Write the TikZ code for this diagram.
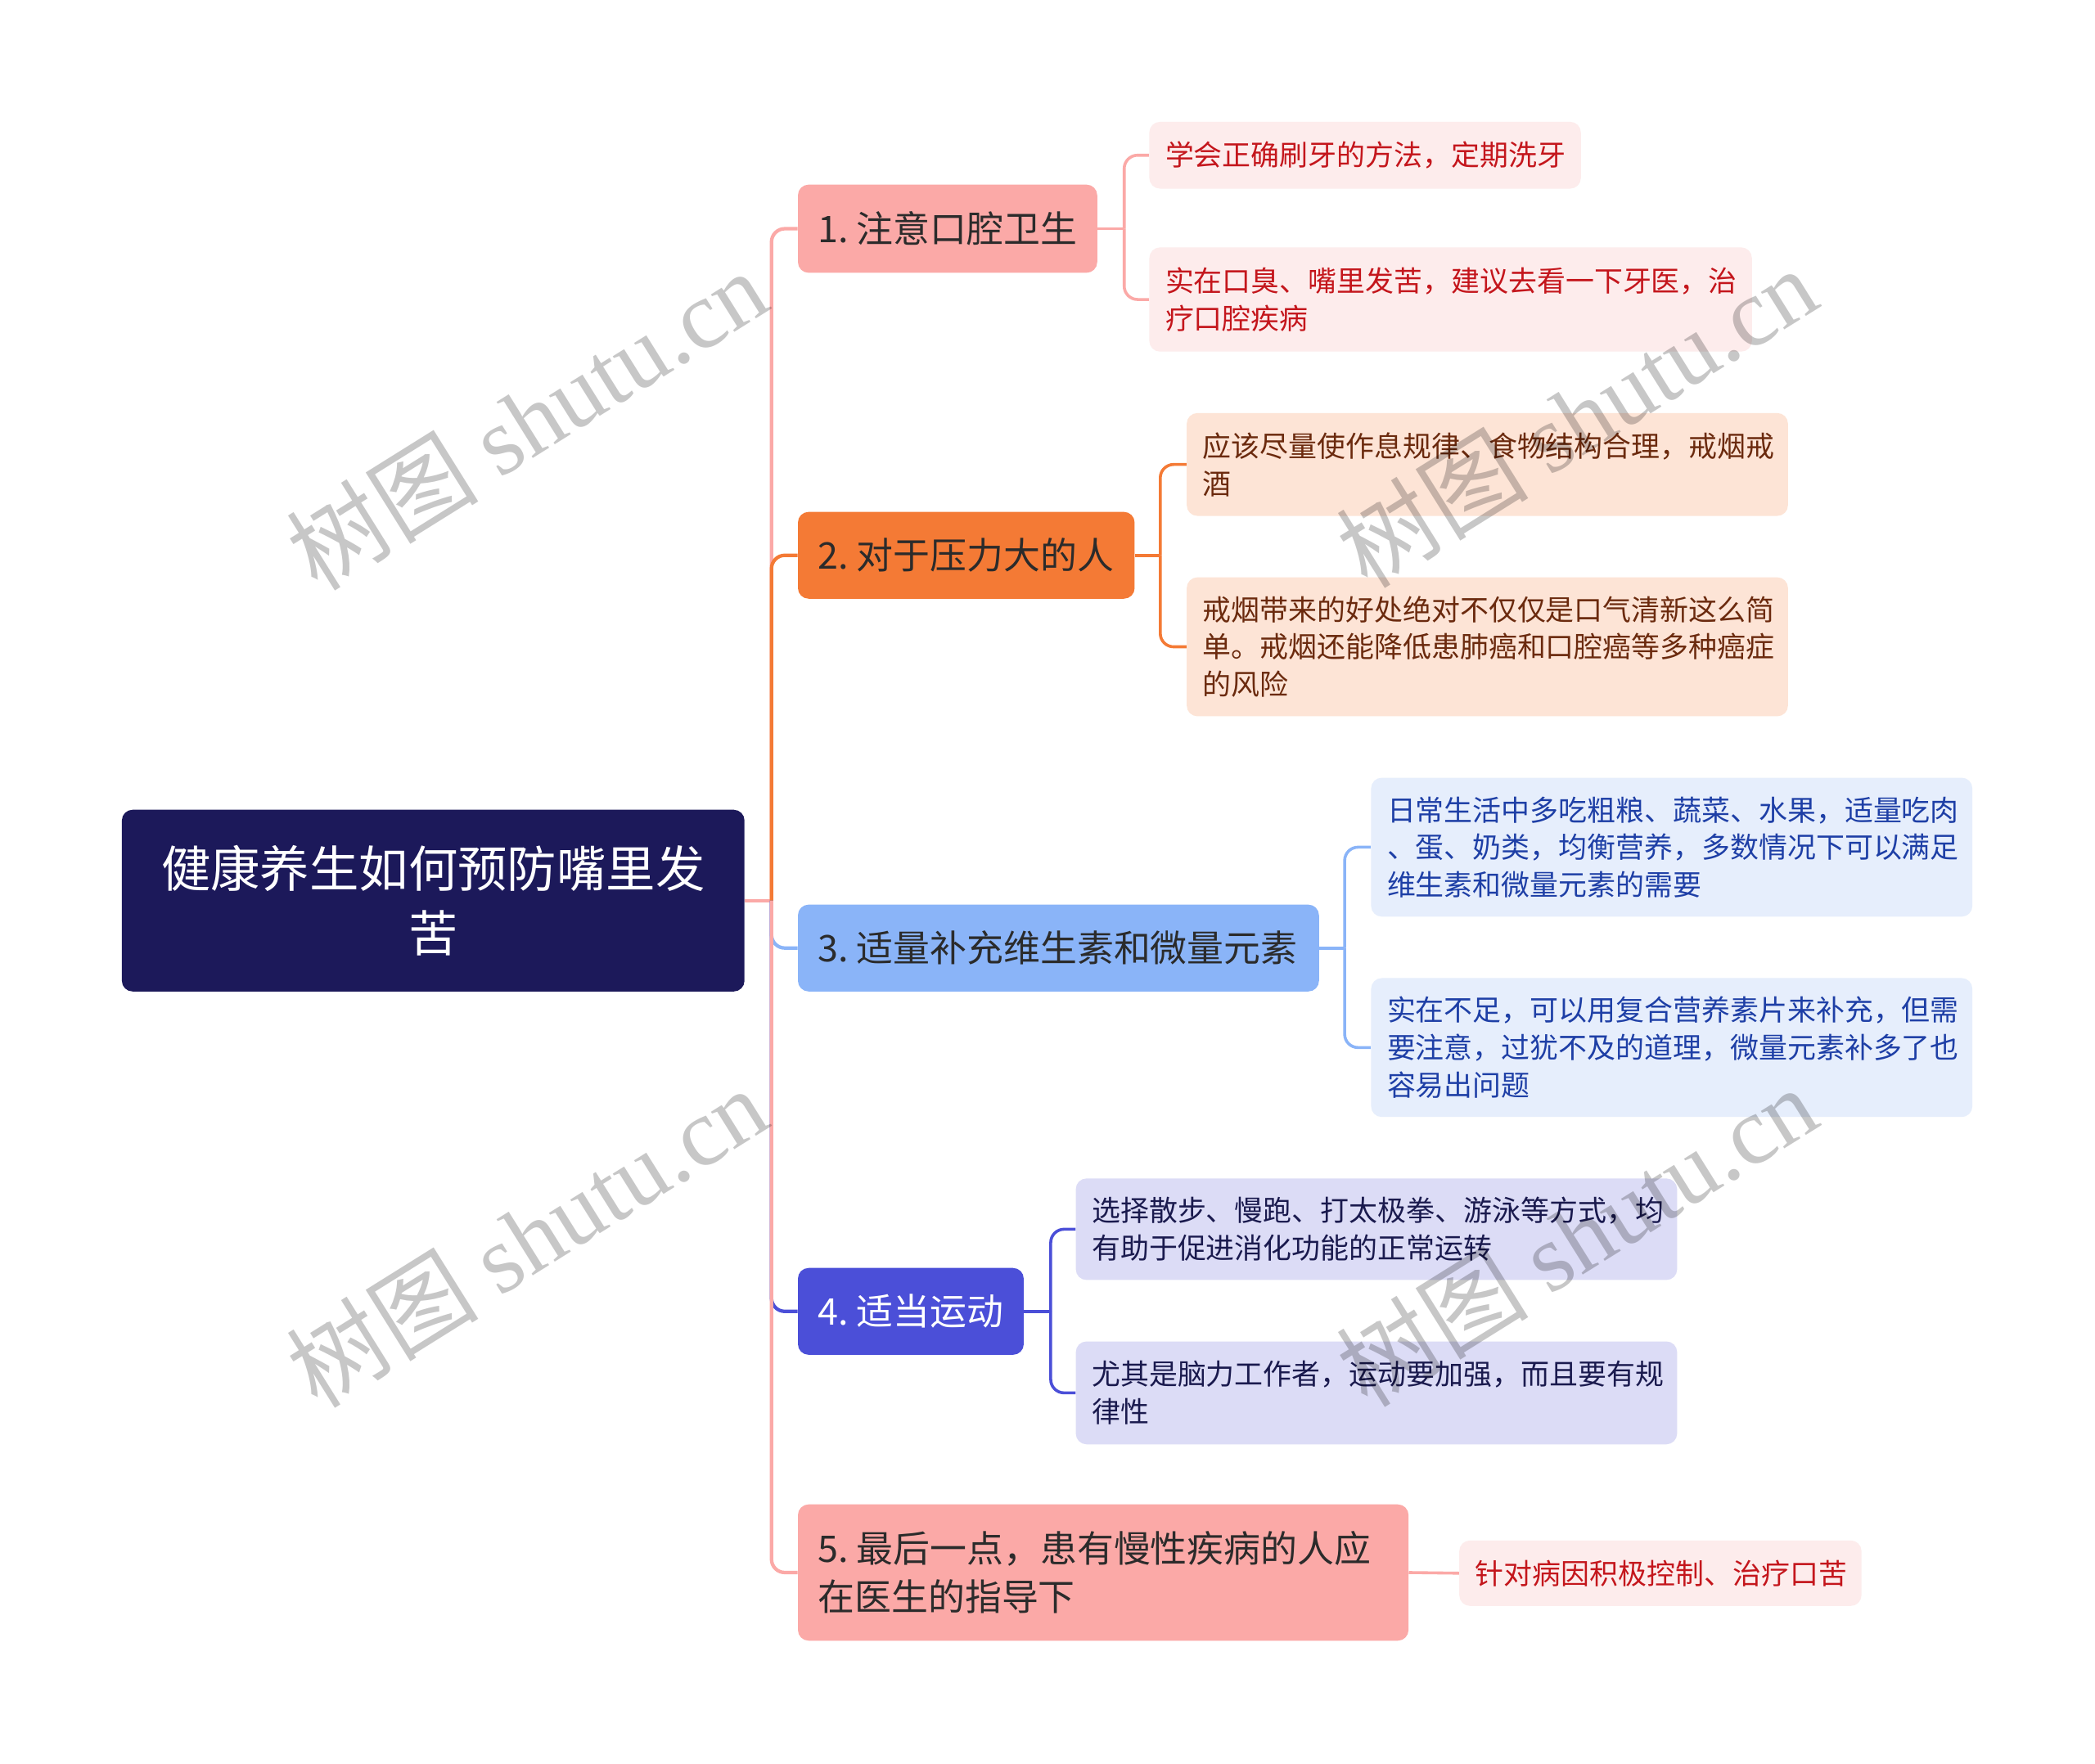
\documentclass[tikz,border=0pt]{standalone}
\usepackage{fontspec}
\setmainfont{Noto Sans CJK SC}
\newfontfamily\wmserif{Liberation Serif}
\usetikzlibrary{calc,backgrounds}
\definecolor{rootc}{HTML}{1C195A}
\definecolor{pinkc}{HTML}{FBA9A7}
\definecolor{orangec}{HTML}{F47A35}
\definecolor{bluec}{HTML}{8AB4F8}
\definecolor{indigoc}{HTML}{4B4FD8}
\definecolor{lpink}{HTML}{FDECEC}
\definecolor{lpeach}{HTML}{FDE4D6}
\definecolor{lblue}{HTML}{E6EEFC}
\definecolor{llav}{HTML}{DCDCF6}
\definecolor{tred}{HTML}{C4161C}
\definecolor{tbrown}{HTML}{6B2A0E}
\definecolor{tblue}{HTML}{1E3FA6}
\definecolor{tnavy}{HTML}{1A1A4E}
\definecolor{tdark}{HTML}{2B2B2B}
\newcommand{\numsp}{\hspace{0.22em}}
\tikzset{
  box/.style={anchor=north west, rounded corners=8pt, inner ysep=0pt, align=left},
  rootbox/.style={box, fill=rootc, text=white, align=center, inner xsep=0pt,
    font=\fontsize{37}{48}\selectfont},
  branch/.style={box, inner xsep=15pt, font=\fontsize{27.5}{36}\selectfont},
  leaf/.style={box, inner xsep=12pt, font=\fontsize{21.4}{28}\selectfont},
  conn/.style={line width=2.6pt, rounded corners=10pt},
  lconn/.style={line width=2.2pt, rounded corners=10pt},
  wm/.style={text=black, text opacity=0.22, font=\fontsize{72}{76}\selectfont, rotate=32, inner sep=0pt}
}
\begin{document}
\begin{tikzpicture}[x=1pt,y=-1pt]
\useasboundingbox (0,0) rectangle (1568,1320);
% root
\node[rootbox, minimum width=466pt, minimum height=136pt, text width=460pt] (root) at (91,606)
  {健康养生如何预防嘴里发\\苦};
% branches
\node[branch, fill=pinkc, text=tdark, minimum width=224pt, minimum height=66pt, text width=194pt] (b1) at (597,138)
  {\mbox{1.\numsp 注意口腔卫生}};
\node[branch, fill=orangec, text=tdark, minimum width=252pt, minimum height=65pt, text width=222pt] (b2) at (597,383)
  {\mbox{2.\numsp 对于压力大的人}};
\node[branch, fill=bluec, text=tdark, minimum width=390pt, minimum height=65pt, text width=360pt] (b3) at (597,677)
  {\mbox{3.\numsp 适量补充维生素和微量元素}};
\node[branch, fill=indigoc, text=white, minimum width=169pt, minimum height=65pt, text width=139pt] (b4) at (597,949)
  {\mbox{4.\numsp 适当运动}};
\node[branch, fill=pinkc, text=tdark, minimum width=457pt, minimum height=102pt, text width=427pt] (b5) at (597,1126)
  {\mbox{5.\numsp 最后一点，患有慢性疾病的人应}\\在医生的指导下};
% leaves
\node[leaf, fill=lpink, text=tred, minimum width=323pt, minimum height=50pt, text width=299pt] (l1a) at (860,91)
  {学会正确刷牙的方法，定期洗牙};
\node[leaf, fill=lpink, text=tred, minimum width=451pt, minimum height=78pt, text width=427pt] (l1b) at (860,185)
  {实在口臭、嘴里发苦，建议去看一下牙医，治\\疗口腔疾病};
\node[leaf, fill=lpeach, text=tbrown, minimum width=450pt, minimum height=77pt, text width=426pt] (l2a) at (888,309)
  {应该尽量使作息规律、食物结构合理，戒烟戒\\酒};
\node[leaf, fill=lpeach, text=tbrown, minimum width=450pt, minimum height=104pt, text width=426pt] (l2b) at (888,432)
  {戒烟带来的好处绝对不仅仅是口气清新这么简\\单。戒烟还能降低患肺癌和口腔癌等多种癌症\\的风险};
\node[leaf, fill=lblue, text=tblue, minimum width=450pt, minimum height=104pt, text width=426pt] (l3a) at (1026,582)
  {日常生活中多吃粗粮、蔬菜、水果，适量吃肉\\、蛋、奶类，均衡营养，多数情况下可以满足\\维生素和微量元素的需要};
\node[leaf, fill=lblue, text=tblue, minimum width=450pt, minimum height=104pt, text width=426pt] (l3b) at (1026,732)
  {实在不足，可以用复合营养素片来补充，但需\\要注意，过犹不及的道理，微量元素补多了也\\容易出问题};
\node[leaf, fill=llav, text=tnavy, minimum width=450pt, minimum height=76pt, text width=426pt] (l4a) at (805,882)
  {选择散步、慢跑、打太极拳、游泳等方式，均\\有助于促进消化功能的正常运转};
\node[leaf, fill=llav, text=tnavy, minimum width=450pt, minimum height=77pt, text width=426pt] (l4b) at (805,1004)
  {尤其是脑力工作者，运动要加强，而且要有规\\律性};
\node[leaf, fill=lpink, text=tred, minimum width=301pt, minimum height=49pt, text width=277pt] (l5a) at (1092,1153)
  {针对病因积极控制、治疗口苦};
% connectors
\begin{pgfonlayer}{background}
\fill[white] (0,0) rectangle (1568,1320);
\coordinate (j) at ($(root.east)+(20,0)$);
\draw[conn, pinkc] (root.east) -- (j);
\draw[conn, pinkc] (j) |- (b1.west);
\draw[conn, orangec] (j) |- (b2.west);
\draw[conn, bluec] (j) |- (b3.west);
\draw[conn, indigoc] (j) |- (b4.west);
\draw[conn, pinkc] (j) |- (b5.west);
\coordinate (k1) at ($(b1.east)+(20,0)$);
\draw[lconn, pinkc] (b1.east) -- (k1);
\draw[lconn, pinkc] (k1) |- (l1a.west);
\draw[lconn, pinkc] (k1) |- (l1b.west);
\coordinate (k2) at ($(b2.east)+(19,0)$);
\draw[lconn, orangec] (b2.east) -- (k2);
\draw[lconn, orangec] (k2) |- (l2a.west);
\draw[lconn, orangec] (k2) |- (l2b.west);
\coordinate (k3) at ($(b3.east)+(19,0)$);
\draw[lconn, bluec] (b3.east) -- (k3);
\draw[lconn, bluec] (k3) |- (l3a.west);
\draw[lconn, bluec] (k3) |- (l3b.west);
\coordinate (k4) at ($(b4.east)+(20,0)$);
\draw[lconn, indigoc] (b4.east) -- (k4);
\draw[lconn, indigoc] (k4) |- (l4a.west);
\draw[lconn, indigoc] (k4) |- (l4b.west);
\draw[lconn, pinkc] (b5.east) -- (l5a.west);
\end{pgfonlayer}
% watermarks
\node[wm] (wm1) at (394,314) {树图 {\wmserif shutu.cn}};
\node[wm] (wm2) at (1180,312) {树图 {\wmserif shutu.cn}};
\node[wm] (wm3) at (394,926) {树图 {\wmserif shutu.cn}};
\node[wm] (wm4) at (1180,925) {树图 {\wmserif shutu.cn}};
\end{tikzpicture}
\end{document}
